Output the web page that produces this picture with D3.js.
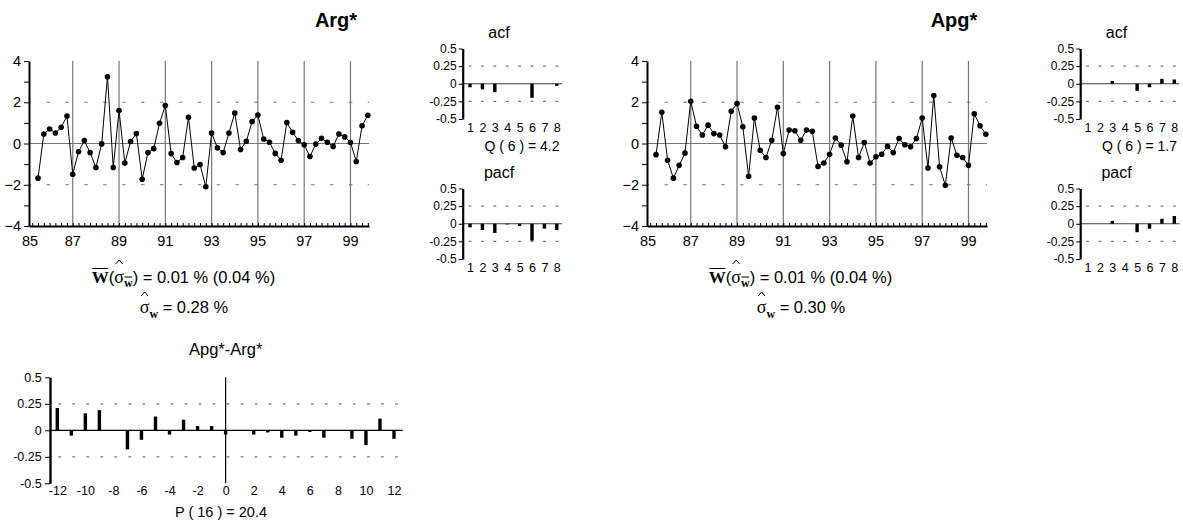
<!DOCTYPE html>
<html>
<head>
<meta charset="utf-8">
<script src="https://cdn.jsdelivr.net/npm/d3@7"></script>
<style>
  body { margin: 0; background: #fff; }
  svg { display: block; }
  text { font-family: "Liberation Sans", Arial, sans-serif; fill: #000; }
</style>
</head>
<body>
<svg id="chart" width="1183" height="525"></svg>
<script>
// ---- data -------------------------------------------------------------
// quarterly observations, first one in mid-1985
const firstObs = 85.5;
const yearTicks = [85, 87, 89, 91, 93, 95, 97, 99];
const yearGrid = [87, 89, 91, 93, 95, 97, 99];

const argSeries = [-1.68, 0.46, 0.70, 0.51, 0.79, 1.33, -1.49, -0.40, 0.14, -0.44,
  -1.16, -0.02, 3.24, -1.16, 1.60, -0.95, 0.10, 0.48, -1.73, -0.44,
  -0.25, 0.98, 1.84, -0.49, -0.92, -0.68, 1.27, -1.19, -1.02, -2.10,
  0.51, -0.21, -0.44, 0.51, 1.48, -0.29, 0.11, 1.06, 1.38, 0.22,
  0.06, -0.48, -0.81, 1.02, 0.54, 0.14, -0.06, -0.63, -0.03, 0.25,
  0.06, -0.14, 0.46, 0.32, 0.05, -0.87, 0.86, 1.37];

const apgSeries = [-0.54, 1.51, -0.81, -1.68, -1.06, -0.46, 2.05, 0.84, 0.41, 0.89,
  0.48, 0.41, -0.16, 1.56, 1.94, 0.81, -1.59, 1.24, -0.33, -0.68,
  0.16, 1.76, -0.49, 0.65, 0.62, 0.16, 0.65, 0.59, -1.11, -0.95,
  -0.52, 0.27, -0.08, -0.89, 1.33, -0.68, 0.05, -0.95, -0.64, -0.52,
  -0.14, -0.44, 0.24, -0.06, -0.16, 0.24, 1.24, -1.19, 2.33, -1.13,
  -2.03, 0.27, -0.57, -0.68, -1.06, 1.44, 0.86, 0.45];

const lags = [1, 2, 3, 4, 5, 6, 7, 8];
const argAcf  = [-0.05, -0.08, -0.12, 0.00, 0.00, -0.20, 0.00, -0.03];
const argPacf = [-0.05, -0.09, -0.13, -0.01, -0.03, -0.24, -0.07, -0.09];
const apgAcf  = [0.00, 0.00, 0.04, 0.00, -0.10, -0.05, 0.07, 0.06];
const apgPacf = [0.00, 0.00, 0.04, 0.00, -0.12, -0.07, 0.07, 0.11];

const crossLags = [-12, -11, -10, -9, -8, -7, -6, -5, -4, -3, -2, -1, 0,
  1, 2, 3, 4, 5, 6, 7, 8, 9, 10, 11, 12];
const crossCorr = [0.21, -0.05, 0.16, 0.19, 0.00, -0.18, -0.09, 0.13, -0.04, 0.10, 0.04, 0.04, -0.04,
  0.00, -0.04, -0.02, -0.07, -0.05, -0.015, -0.07, 0.00, -0.08, -0.14, 0.11, -0.08];
const crossTicks = [-12, -10, -8, -6, -4, -2, 0, 2, 4, 6, 8, 10, 12];

const corrTicks = [-0.5, -0.25, 0, 0.25, 0.5];

// ---- drawing ----------------------------------------------------------
const svg = d3.select("#chart");
const SANS = '"Liberation Sans", Arial, sans-serif';
const SERIF = '"Liberation Serif", "Times New Roman", serif';
const GRID = "#767676";

function styleAxis(g, size, width) {
  g.select(".domain").attr("stroke", "#000").attr("stroke-width", width);
  g.selectAll(".tick line").attr("stroke", "#000").attr("stroke-width", 1);
  g.selectAll(".tick text").style("font-family", SANS).style("font-size", size + "px").attr("fill", "#000");
}

function dashedLine(g, x0, x1, y, period, dash, firstAt) {
  g.append("line").attr("x1", x0).attr("x2", x1).attr("y1", y).attr("y2", y)
    .attr("stroke", GRID).attr("stroke-width", 1.2)
    .attr("stroke-dasharray", dash + "," + (period - dash))
    .attr("stroke-dashoffset", period - firstAt);
}

function drawMain(ox, series, title) {
  const g = svg.append("g");
  const x = d3.scaleLinear().domain([85.11, 99.8]).range([29 + ox, 369 + ox]);
  const y = d3.scaleLinear().domain([-4, 4]).range([226, 61]);
  const [x0, x1] = x.range();
  const t = series.map((_, i) => firstObs + 0.25 * i);

  // year dividers
  g.selectAll(".vgrid").data(yearGrid).join("line")
    .attr("x1", d => x(d)).attr("x2", d => x(d))
    .attr("y1", y(4)).attr("y2", y(-4))
    .attr("stroke", GRID).attr("stroke-width", 1.2);
  // +/- 2 bands and zero line
  [2, -2].forEach(v => dashedLine(g, x0, x1, y(v), 18.9, 3.5, 17.5));
  g.append("line").attr("x1", x0).attr("x2", x1).attr("y1", y(0)).attr("y2", y(0))
    .attr("stroke", GRID).attr("stroke-width", 1.2);

  // y axis
  const ya = g.append("g").attr("transform", `translate(${x0},0)`)
    .call(d3.axisLeft(y).tickValues(d3.range(-4, 5)).tickSize(5).tickSizeOuter(0).tickPadding(3)
      .tickFormat(d => (d % 2 === 0 ? d3.format("d")(d) : "")));
  styleAxis(ya, 14.5, 2);

  // quarterly minor ticks on the time axis
  const quarters = d3.range(85.25, 99.81, 0.25);
  const xm = g.append("g").attr("transform", `translate(0,${y(-4)})`)
    .call(d3.axisTop(x).tickValues(quarters).tickSize(3).tickSizeOuter(0).tickFormat(""));
  styleAxis(xm, 14.5, 2.2);
  // year labels
  const xl = g.append("g").attr("transform", `translate(0,${y(-4)})`)
    .call(d3.axisBottom(x).tickValues(yearTicks).tickSize(0).tickPadding(9.7)
      .tickFormat(d => String(d)));
  xl.select(".domain").remove();
  styleAxis(xl, 14.5, 0);
  xl.selectAll(".tick").attr("transform", d => `translate(${Math.max(x(d), x0 + 1)},0)`);

  // series
  const line = d3.line().x((d, i) => x(t[i])).y(d => y(d));
  g.append("path").datum(series).attr("d", line)
    .attr("fill", "none").attr("stroke", "#000").attr("stroke-width", 1);
  g.selectAll(".pt").data(series).join("circle")
    .attr("cx", (d, i) => x(t[i])).attr("cy", d => y(d)).attr("r", 2.8).attr("fill", "#000");

  svg.append("text").attr("x", 336 + ox).attr("y", 27).attr("text-anchor", "middle")
    .style("font-size", "20px").style("font-weight", "bold").text(title);
}

function drawCorr(ox, oy, values, title, note) {
  const g = svg.append("g");
  const x = d3.scaleLinear().domain([0.41, 8.42]).range([462.7 + ox, 562 + ox]);
  const y = d3.scaleLinear().domain([-0.5, 0.5]).range([119 + oy, 48.5 + oy]);
  const [x0, x1] = x.range();

  [0.25, -0.25].forEach(v => dashedLine(g, x0, x1, y(v), 12.4, 2.8, x(1) - 1.4 - x0));
  g.append("line").attr("x1", x0).attr("x2", x1).attr("y1", y(0)).attr("y2", y(0))
    .attr("stroke", "#404040").attr("stroke-width", 1.2);

  g.selectAll(".bar").data(values).join("rect")
    .attr("x", (d, i) => x(lags[i]) - 1.7).attr("width", 3.4)
    .attr("y", d => y(Math.max(0, d))).attr("height", d => Math.abs(y(d) - y(0)))
    .attr("fill", "#000");

  const ya = g.append("g").attr("transform", `translate(${x0},0)`)
    .call(d3.axisLeft(y).tickValues(corrTicks).tickSize(4).tickSizeOuter(0).tickPadding(2)
      .tickFormat(d => String(d)));
  styleAxis(ya, 12, 2.2);

  const xl = g.append("g").attr("transform", `translate(0,${y(-0.5)})`)
    .call(d3.axisBottom(x).tickValues(lags).tickSize(0).tickPadding(4.2).tickFormat(d => String(d)));
  xl.select(".domain").remove();
  styleAxis(xl, 12.5, 0);

  svg.append("text").attr("x", 499 + ox).attr("y", 38 + oy).attr("text-anchor", "middle")
    .style("font-size", "16px").text(title);
  if (note) {
    svg.append("text").attr("x", 522 + ox).attr("y", 150.5 + oy).attr("text-anchor", "middle")
      .style("font-size", "14px").text(note);
  }
}

function drawCross() {
  const g = svg.append("g");
  const x = d3.scaleLinear().domain([-12.52, 12.62]).range([50, 402.7]);
  const y = d3.scaleLinear().domain([-0.5, 0.5]).range([483.3, 377.3]);
  const [x0, x1] = x.range();

  [0.25, -0.25].forEach(v => dashedLine(g, x0, x1, y(v), 14.03, 2.8, x(-12) + 1 - x0));
  g.append("line").attr("x1", x0).attr("x2", x1).attr("y1", y(0)).attr("y2", y(0))
    .attr("stroke", "#000").attr("stroke-width", 1.2);
  g.append("line").attr("x1", x(0)).attr("x2", x(0)).attr("y1", y(0.5)).attr("y2", y(-0.5))
    .attr("stroke", "#000").attr("stroke-width", 1.2);

  g.selectAll(".bar").data(crossCorr).join("rect")
    .attr("x", (d, i) => x(crossLags[i]) - 1.7).attr("width", 3.4)
    .attr("y", d => y(Math.max(0, d))).attr("height", d => Math.abs(y(d) - y(0)))
    .attr("fill", "#000");

  const ya = g.append("g").attr("transform", `translate(${x0},0)`)
    .call(d3.axisLeft(y).tickValues(corrTicks).tickSize(5).tickSizeOuter(0).tickPadding(3.3)
      .tickFormat(d => String(d)));
  styleAxis(ya, 12.5, 2.4);

  const xl = g.append("g").attr("transform", `translate(0,${y(-0.5)})`)
    .call(d3.axisBottom(x).tickValues(crossTicks).tickSize(0).tickPadding(2.8).tickFormat(d => String(d)));
  xl.select(".domain").remove();
  styleAxis(xl, 12.5, 0);

  svg.append("text").attr("x", x(0)).attr("y", 355).attr("text-anchor", "middle")
    .style("font-size", "16.5px").text("Apg*-Arg*");
  svg.append("text").attr("x", 221).attr("y", 516.5).attr("text-anchor", "middle")
    .style("font-size", "14.5px").text("P ( 16 ) = 20.4");
}

// typeset a run of pieces (with optional over-bars and hats), centred on cx
function mathLine(cx, baseline, parts) {
  const g = svg.append("g");
  let x = 0;
  parts.forEach(p => {
    const yb = baseline + (p.dy || 0);
    const t = g.append("text").attr("x", x).attr("y", yb).text(p.text)
      .style("font-family", p.serif ? SERIF : SANS)
      .style("font-size", p.size + "px")
      .style("font-weight", p.bold ? "bold" : "normal");
    const w = t.node().getComputedTextLength();
    if (p.bar) {
      g.append("line").attr("x1", x + 0.5).attr("x2", x + w - 0.5)
        .attr("y1", yb - p.bar).attr("y2", yb - p.bar)
        .attr("stroke", "#000").attr("stroke-width", 1);
    }
    if (p.hat) {
      const hx = x + w / 2, hy = baseline - p.hat;
      g.append("path").attr("d", `M${hx - 3.5},${hy + 4}L${hx},${hy}L${hx + 3.5},${hy + 4}`)
        .attr("fill", "none").attr("stroke", "#000").attr("stroke-width", 1);
    }
    x += w + (p.gap || 0);
  });
  g.attr("transform", `translate(${cx - x / 2},0)`);
}

function drawStats(ox, mean, meanSe, sd) {
  mathLine(183.5 + ox, 283, [
    { text: "W", serif: true, bold: true, size: 17, bar: 14.5 },
    { text: "(", size: 16.5 },
    { text: "σ", serif: true, size: 18, hat: 23 },
    { text: "w", serif: true, bold: true, size: 12, dy: 4, bar: 10 },
    { text: ")", size: 16.5, gap: 4.5 },
    { text: `= ${mean} % (${meanSe} %)`, size: 16.5 }
  ]);
  mathLine(184 + ox, 313, [
    { text: "σ", serif: true, size: 18, hat: 21 },
    { text: "w", serif: true, bold: true, size: 12, dy: 5, gap: 4.5 },
    { text: `= ${sd} %`, size: 16.5 }
  ]);
}

drawMain(0, argSeries, "Arg*");
drawMain(618, apgSeries, "Apg*");
drawCorr(0, 0, argAcf, "acf", "Q ( 6 ) = 4.2");
drawCorr(0, 140, argPacf, "pacf", null);
drawCorr(617.5, 0, apgAcf, "acf", "Q ( 6 ) = 1.7");
drawCorr(617.5, 140, apgPacf, "pacf", null);
drawCross();
drawStats(0, "0.01", "0.04", "0.28");
drawStats(617, "0.01", "0.04", "0.30");
</script>
</body>
</html>
